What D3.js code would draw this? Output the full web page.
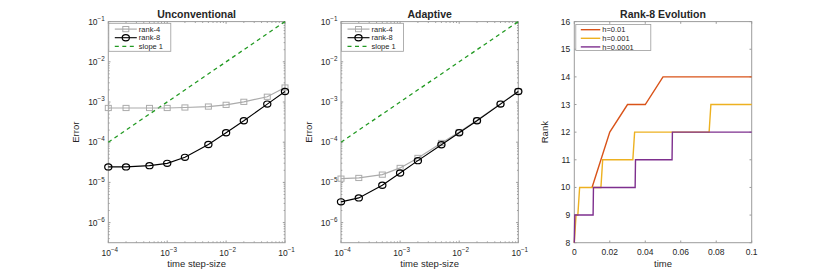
<!DOCTYPE html>
<html><head><meta charset="utf-8">
<script src="https://cdn.jsdelivr.net/npm/d3@7"></script>
<style>
body{margin:0;background:#fff}
text{font-family:"Liberation Sans",Arial,Helvetica,sans-serif;fill:#262626}
</style></head><body>
<svg id="c" width="830" height="273"></svg>
<script>
// ---------- data ----------
const stepSizes   = [1e-4, 2e-4, 5e-4, 1e-3, 2e-3, 5e-3, 1e-2, 2e-2, 5e-2, 1e-1];
const unconvRank4 = [7.1e-4, 7.1e-4, 7.1e-4, 7.1e-4, 7.3e-4, 7.7e-4, 8.5e-4, 1.01e-3, 1.35e-3, 2.29e-3];
const unconvRank8 = [2.43e-5, 2.43e-5, 2.61e-5, 2.98e-5, 4.2e-5, 8.8e-5, 1.72e-4, 3.41e-4, 8.87e-4, 1.82e-3];
const adaptRank4  = [1.24e-5, 1.29e-5, 1.56e-5, 2.29e-5, 4.06e-5, 9.55e-5, 1.79e-4, 3.5e-4, 9.0e-4, 1.85e-3];
const adaptRank8  = [3.28e-6, 4.12e-6, 8.47e-6, 1.72e-5, 3.48e-5, 8.67e-5, 1.72e-4, 3.41e-4, 8.87e-4, 1.82e-3];
const slopeX = [1e-4, 1e-1];
const slopeY = [1e-4, 1e-1];
const logXTickExps = [-4, -3, -2, -1];
const logYTickExps = [-6, -5, -4, -3, -2, -1];

const t001  = [0.01, 0.02, 0.03, 0.04, 0.05, 0.1];
const r001  = [10, 12, 13, 13, 14, 14];
const t0001 = [0, 0.001, 0.002, 0.003, 0.015, 0.016, 0.033, 0.034, 0.076, 0.077, 0.1];
const r0001 = [8, 9, 9, 10, 10, 11, 11, 12, 12, 13, 13];
const t00001 = [0, 0.0003, 0.0106, 0.0108, 0.0343, 0.0345, 0.0551, 0.0553, 0.1];
const r00001 = [8, 9, 9, 10, 10, 11, 11, 12, 12];
const timeTicks = [0, 0.02, 0.04, 0.06, 0.08, 0.1];
const timeTickLabels = ["0", "0.02", "0.04", "0.06", "0.08", "0.1"];
const rankTicks = [8, 9, 10, 11, 12, 13, 14, 15, 16];

// ---------- styles ----------
const svg = d3.select("#c");
const AX = "#9c9c9c", TL = 2.2;
const TOP = 21.6, BOT = 242.7;
const GRAY = "#ababab", GREEN = "#229a22";
const LFS = 7.5, LSP = 8.6;

function frame(x, y, xTicks, yTicks, xMinor, yMinor) {
  const g = svg.append("g");
  const [x0, x1] = x.range(), [y0, y1] = [y.range()[0], y.range()[1]];
  g.append("rect").attr("x", x0).attr("y", y1).attr("width", x1 - x0).attr("height", y0 - y1)
    .attr("fill", "none").attr("stroke", AX).attr("stroke-width", 1);
  const tick = (vals, len) => {
    vals.forEach(v => {
      const px = x(v);
      g.append("line").attr("x1", px).attr("x2", px).attr("y1", y0).attr("y2", y0 - len).attr("stroke", AX);
      g.append("line").attr("x1", px).attr("x2", px).attr("y1", y1).attr("y2", y1 + len).attr("stroke", AX);
    });
  };
  const ytick = (vals, len) => {
    vals.forEach(v => {
      const py = y(v);
      g.append("line").attr("y1", py).attr("y2", py).attr("x1", x0).attr("x2", x0 + len).attr("stroke", AX);
      g.append("line").attr("y1", py).attr("y2", py).attr("x1", x1).attr("x2", x1 - len).attr("stroke", AX);
    });
  };
  tick(xTicks, TL); ytick(yTicks, TL);
  tick(xMinor, TL * 0.6); ytick(yMinor, TL * 0.6);
  return g;
}

function minorLog(dom) {
  const out = [];
  for (let k = Math.floor(Math.log10(dom[0])) ; k <= Math.ceil(Math.log10(dom[1])); k++)
    for (let m = 2; m <= 9; m++) { const v = m * Math.pow(10, k); if (v > dom[0] && v < dom[1]) out.push(v); }
  return out;
}

function powLabel(g, px, py, exp, anchor) {
  const t = g.append("text").attr("x", px).attr("y", py).attr("font-size", 8.5).attr("text-anchor", anchor);
  t.append("tspan").text("10");
  t.append("tspan").attr("dy", -3.8).attr("font-size", 6.3).text(String(exp).replace("-", "\u2212"));
}

function logPanel(xl, xr, title, r4, r8) {
  const x = d3.scaleLog().domain([1e-4, 1e-1]).range([xl, xr]);
  const y = d3.scaleLog().domain([Math.pow(10, -6.5), 1e-1]).range([BOT, TOP]);
  const xt = logXTickExps.map(e => Math.pow(10, e)), yt = logYTickExps.map(e => Math.pow(10, e));
  const g = frame(x, y, xt, yt, minorLog(x.domain()), minorLog(y.domain()));
  logXTickExps.forEach(e => powLabel(g, x(Math.pow(10, e)) + 1.5, 255.5, e, "middle"));
  logYTickExps.forEach(e => powLabel(g, xl - 3.5, y(Math.pow(10, e)) + 3, e, "end"));
  g.append("text").attr("x", (xl + xr) / 2).attr("y", 18).attr("text-anchor", "middle")
    .attr("font-size", 10.5).attr("font-weight", "bold").attr("fill", "#000").text(title);
  g.append("text").attr("x", (xl + xr) / 2).attr("y", 266.5).attr("text-anchor", "middle")
    .attr("font-size", 9.5).text("time step-size");
  const ylx = xl - 29;
  g.append("text").attr("transform", `translate(${ylx},${(TOP + BOT) / 2}) rotate(-90)`)
    .attr("text-anchor", "middle").attr("font-size", 9.5).text("Error");

  const line = d3.line().x(d => x(d[0])).y(d => y(d[1]));
  g.append("path").attr("d", line(d3.zip(slopeX, slopeY))).attr("fill", "none")
    .attr("stroke", GREEN).attr("stroke-width", 1.3).attr("stroke-dasharray", "4,3.5");
  const d4 = d3.zip(stepSizes, r4);
  g.append("path").attr("d", line(d4)).attr("fill", "none").attr("stroke", GRAY).attr("stroke-width", 1.2);
  g.selectAll(null).data(d4).join("rect").attr("x", d => x(d[0]) - 3).attr("y", d => y(d[1]) - 2.6)
    .attr("width", 6).attr("height", 5.2).attr("fill", "none").attr("stroke", GRAY).attr("stroke-width", 1);
  const d8 = d3.zip(stepSizes, r8);
  g.append("path").attr("d", line(d8)).attr("fill", "none").attr("stroke", "#000").attr("stroke-width", 1.1);
  g.selectAll(null).data(d8).join("ellipse").attr("cx", d => x(d[0])).attr("cy", d => y(d[1]))
    .attr("rx", 3.6).attr("ry", 3.1).attr("fill", "none").attr("stroke", "#000").attr("stroke-width", 1.2);

  const lx = xl + 0.5, ly = 23.3, lw = 62, lh = 28;
  const lg = g.append("g");
  lg.append("rect").attr("x", lx).attr("y", ly).attr("width", lw).attr("height", lh)
    .attr("fill", "#fff").attr("stroke", AX).attr("stroke-width", 0.8);
  const rows = [ly + 5.8, ly + 5.8 + LSP, ly + 5.8 + 2 * LSP];
  const a = lx + 6, b = lx + 28;
  lg.append("line").attr("x1", a).attr("x2", b).attr("y1", rows[0]).attr("y2", rows[0]).attr("stroke", GRAY).attr("stroke-width", 1.2);
  lg.append("rect").attr("x", (a + b) / 2 - 3).attr("y", rows[0] - 2.6).attr("width", 6).attr("height", 5.2)
    .attr("fill", "none").attr("stroke", GRAY);
  lg.append("line").attr("x1", a).attr("x2", b).attr("y1", rows[1]).attr("y2", rows[1]).attr("stroke", "#000").attr("stroke-width", 1.1);
  lg.append("ellipse").attr("cx", (a + b) / 2).attr("cy", rows[1]).attr("rx", 3.6).attr("ry", 3.1)
    .attr("fill", "none").attr("stroke", "#000").attr("stroke-width", 1.2);
  lg.append("line").attr("x1", a).attr("x2", b).attr("y1", rows[2]).attr("y2", rows[2]).attr("stroke", GREEN)
    .attr("stroke-width", 1.3).attr("stroke-dasharray", "4,3.5");
  ["rank-4", "rank-8", "slope 1"].forEach((s, i) =>
    lg.append("text").attr("x", b + 2).attr("y", rows[i] + 2.7).attr("font-size", LFS).text(s));
}

logPanel(108.3, 285, "Unconventional", unconvRank4, unconvRank8);
logPanel(341, 518.3, "Adaptive", adaptRank4, adaptRank8);

// ---------- panel 3 ----------
(function () {
  const xl = 574.3, xr = 751.7;
  const x = d3.scaleLinear().domain([0, 0.1]).range([xl, xr]);
  const y = d3.scaleLinear().domain([8, 16]).range([BOT, TOP]);
  const g = frame(x, y, timeTicks, rankTicks, [], []);
  timeTicks.forEach((v, i) => g.append("text").attr("x", x(v)).attr("y", 254.5).attr("text-anchor", "middle")
    .attr("font-size", 8.5).text(timeTickLabels[i]));
  rankTicks.forEach(v => g.append("text").attr("x", xl - 4).attr("y", y(v) + 3).attr("text-anchor", "end")
    .attr("font-size", 8.5).text(v));
  g.append("text").attr("x", (xl + xr) / 2).attr("y", 18).attr("text-anchor", "middle")
    .attr("font-size", 10.5).attr("font-weight", "bold").attr("fill", "#000").text("Rank-8 Evolution");
  g.append("text").attr("x", (xl + xr) / 2).attr("y", 266.5).attr("text-anchor", "middle")
    .attr("font-size", 9.5).text("time");
  g.append("text").attr("transform", `translate(${xl - 26},${(TOP + BOT) / 2}) rotate(-90)`)
    .attr("text-anchor", "middle").attr("font-size", 9.5).text("Rank");
  const line = d3.line().x(d => x(d[0])).y(d => y(d[1]));
  const series = [
    {t: t001, r: r001, c: "#D95319", n: "h=0.01"},
    {t: t0001, r: r0001, c: "#EDB120", n: "h=0.001"},
    {t: t00001, r: r00001, c: "#7E2F8E", n: "h=0.0001"}
  ];
  series.forEach(s => g.append("path").attr("d", line(d3.zip(s.t, s.r))).attr("fill", "none")
    .attr("stroke", s.c).attr("stroke-width", 1.4));
  const lx = xl + 1.5, ly = 24.5, lw = 75, lh = 26;
  g.append("rect").attr("x", lx).attr("y", ly).attr("width", lw).attr("height", lh)
    .attr("fill", "#fff").attr("stroke", AX).attr("stroke-width", 0.8);
  series.forEach((s, i) => {
    const ry = ly + 5.2 + i * LSP;
    g.append("line").attr("x1", lx + 5).attr("x2", lx + 24.5).attr("y1", ry).attr("y2", ry)
      .attr("stroke", s.c).attr("stroke-width", 1.4);
    g.append("text").attr("x", lx + 26.5).attr("y", ry + 2.7).attr("font-size", LFS).text(s.n);
  });
})();
</script>
</body></html>
